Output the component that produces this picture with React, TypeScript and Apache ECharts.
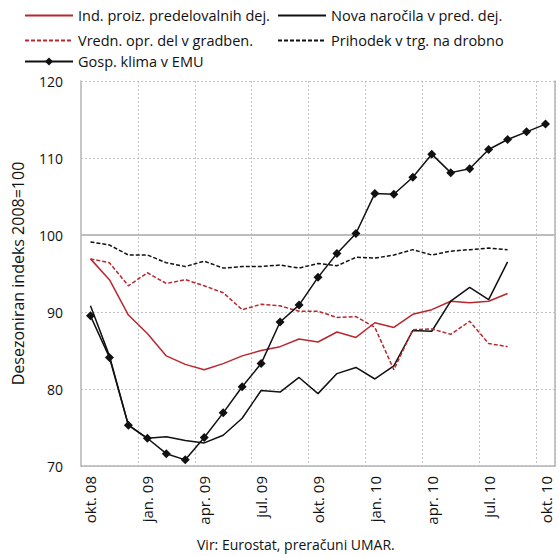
import React, { useEffect, useRef } from "react";
import * as echarts from "echarts";

const categories = [
  "okt. 08", "nov. 08", "dec. 08", "jan. 09", "feb. 09", "mar. 09", "apr. 09", "maj. 09", "jun. 09",
  "jul. 09", "avg. 09", "sep. 09", "okt. 09", "nov. 09", "dec. 09", "jan. 10", "feb. 10", "mar. 10",
  "apr. 10", "maj. 10", "jun. 10", "jul. 10", "avg. 10", "sep. 10", "okt. 10",
];

const indProiz = [96.9, 94.2, 89.6, 87.2, 84.3, 83.2, 82.5, 83.3, 84.3, 85.0, 85.5, 86.5, 86.1, 87.4, 86.7, 88.6, 88.0, 89.7, 90.3, 91.4, 91.2, 91.4, 92.4];
const novaNarocila = [90.8, 84.3, 75.3, 73.6, 73.8, 73.3, 73.0, 74.0, 76.2, 79.8, 79.6, 81.5, 79.4, 82.0, 82.8, 81.3, 83.0, 87.6, 87.5, 91.4, 93.2, 91.6, 96.5];
const vrednOpr = [96.9, 96.4, 93.4, 95.1, 93.7, 94.2, 93.4, 92.5, 90.3, 91.0, 90.8, 90.1, 90.1, 89.3, 89.4, 88.0, 82.5, 87.7, 87.8, 87.1, 88.8, 85.9, 85.5];
const prihodek = [99.1, 98.7, 97.4, 97.4, 96.4, 95.9, 96.6, 95.7, 95.9, 95.9, 96.1, 95.7, 96.3, 96.0, 97.1, 97.0, 97.4, 98.1, 97.4, 97.9, 98.1, 98.3, 98.1];
const gospKlima = [89.5, 84.1, 75.3, 73.6, 71.6, 70.8, 73.7, 76.9, 80.3, 83.3, 88.7, 90.9, 94.5, 97.6, 100.2, 105.4, 105.3, 107.5, 110.5, 108.1, 108.6, 111.1, 112.4, 113.4, 114.4];

const seriesNames = [
  "Ind. proiz. predelovalnih dej.",
  "Nova naročila v pred. dej.",
  "Vredn. opr. del v gradben.",
  "Prihodek v trg. na drobno",
  "Gosp. klima v EMU",
];

const yTitle = "Desezoniran indeks 2008=100";
const sourceText = "Vir: Eurostat, preračuni UMAR.";

const FONT = "'Open Sans', 'Noto Sans', sans-serif";
const RED = "#b8282e";
const BLACK = "#111111";

export default function App() {
  const ref = useRef<HTMLDivElement>(null);
  useEffect(() => {
    document.body.style.margin = "0";
    if (!ref.current) return;
    const chart = echarts.init(ref.current, null, { renderer: "svg" });
    const legendBase = {
      itemWidth: 48,
      itemHeight: 10,
      itemGap: 0,
      padding: 0,
      textStyle: { fontFamily: FONT, fontSize: 14.5, color: "#111" },
      selectedMode: false,
    };
    const noMarker = { itemStyle: { opacity: 0 } };
    chart.setOption({
      animation: false,
      backgroundColor: "#fff",
      textStyle: { fontFamily: FONT },
      legend: [
        { ...legendBase, ...noMarker, data: [seriesNames[0]], left: 24, top: 8 },
        { ...legendBase, ...noMarker, data: [seriesNames[1]], left: 277, top: 8 },
        { ...legendBase, ...noMarker, data: [seriesNames[2]], left: 24, top: 33 },
        { ...legendBase, ...noMarker, data: [seriesNames[3]], left: 277, top: 33 },
        { ...legendBase, data: [seriesNames[4]], left: 24, top: 54 },
      ],
      grid: { left: 81, right: 4, top: 81, bottom: 90, containLabel: false },
      xAxis: {
        type: "category",
        data: categories,
        boundaryGap: true,
        axisLine: { show: true, lineStyle: { color: "#b5b5b5", width: 1.5 } },
        axisTick: { show: false },
        axisLabel: {
          interval: 2,
          rotate: 90,
          fontSize: 15,
          color: "#111",
          fontFamily: FONT,
          margin: 10,
        },
        splitLine: {
          show: true,
          interval: (index: number) => index % 3 === 0 && index > 0,
          lineStyle: { color: "#c4c4c4", type: [2, 2], width: 1 },
        },
      },
      yAxis: [
        {
          type: "value",
          min: 70,
          max: 120,
          interval: 10,
          name: yTitle,
          nameLocation: "middle",
          nameGap: 55,
          nameTextStyle: { fontSize: 16, color: "#111", fontFamily: FONT },
          axisLine: { show: true, lineStyle: { color: "#b5b5b5", width: 1.5 } },
          axisTick: { show: false },
          axisLabel: { fontSize: 14, color: "#111", fontFamily: FONT, margin: 18 },
          splitLine: { show: true, lineStyle: { color: "#c4c4c4", type: [2, 2], width: 1 } },
        },
        {
          type: "value",
          min: 70,
          max: 120,
          interval: 10,
          position: "right",
          axisLine: { show: true, lineStyle: { color: "#b5b5b5", width: 1.5 } },
          axisTick: { show: false },
          axisLabel: { show: false },
          splitLine: { show: false },
        },
      ],
      series: [
        {
          name: seriesNames[0],
          type: "line",
          data: indProiz,
          symbol: "none",
          lineStyle: { color: RED, width: 1.5 },
          itemStyle: { color: RED },
          z: 3,
          markLine: {
            silent: true,
            symbol: "none",
            label: { show: false },
            lineStyle: { color: "#bdbdbd", type: "solid", width: 2 },
            data: [{ yAxis: 100 }],
            z: 1,
          },
        },
        {
          name: seriesNames[1],
          type: "line",
          data: novaNarocila,
          symbol: "none",
          lineStyle: { color: BLACK, width: 1.5 },
          itemStyle: { color: BLACK },
          z: 3,
        },
        {
          name: seriesNames[2],
          type: "line",
          data: vrednOpr,
          symbol: "none",
          lineStyle: { color: RED, width: 1.5, type: [4, 2] },
          itemStyle: { color: RED },
          z: 3,
        },
        {
          name: seriesNames[3],
          type: "line",
          data: prihodek,
          symbol: "none",
          lineStyle: { color: BLACK, width: 1.5, type: [4, 2] },
          itemStyle: { color: BLACK },
          z: 3,
        },
        {
          name: seriesNames[4],
          type: "line",
          data: gospKlima,
          symbol: "diamond",
          symbolSize: 9,
          showSymbol: true,
          lineStyle: { color: BLACK, width: 1.5 },
          itemStyle: { color: BLACK },
          z: 4,
        },
      ],
      graphic: [
        {
          type: "text",
          left: 197,
          top: 537,
          style: {
            text: sourceText,
            fontSize: 14,
            fontFamily: FONT,
            fill: "#111",
          },
        },
      ],
    });
    return () => chart.dispose();
  }, []);
  return <div ref={ref} style={{ width: 559, height: 556 }} />;
}
